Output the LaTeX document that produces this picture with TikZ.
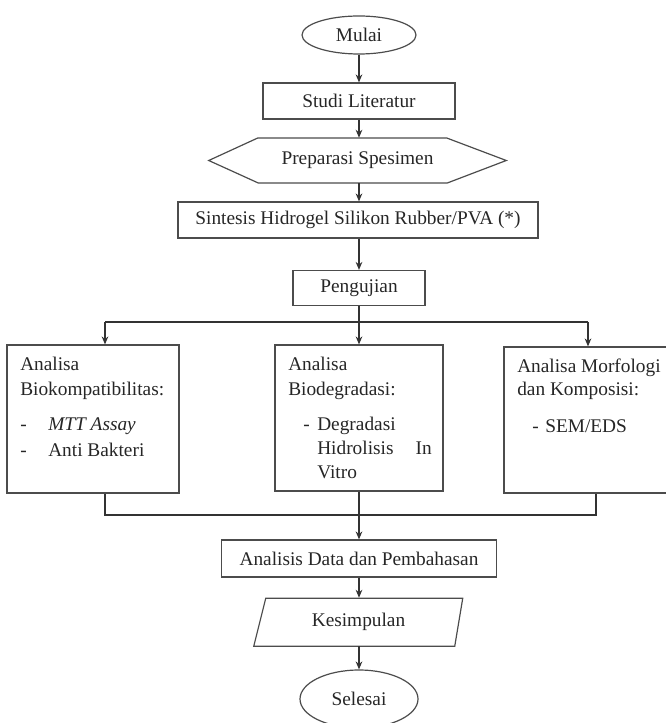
\documentclass[tikz,border=0pt]{standalone}
\usepackage{fontspec}
\setmainfont{Liberation Serif}
\usetikzlibrary{shapes.geometric,arrows.meta}
\begin{document}
\begin{tikzpicture}[x=0.75pt,y=-0.75pt,
  every node/.style={font=\fontsize{14.5}{17}\selectfont, text=black!85},
  shapeline/.style={draw=black!70, line width=0.9pt},
  boxnode/.style={shapeline, rectangle, inner sep=0pt},
  ovalnode/.style={shapeline, ellipse, inner sep=0pt},
  ghost/.style={rectangle, inner sep=0pt},
  conn/.style={draw=black!80, line width=0.9pt},
  arr/.style={conn, -{Stealth[length=6pt,width=5pt]}},
  txt/.style={anchor=base west, inner sep=0pt}]
\useasboundingbox (0,0) rectangle (665,723);

\node[ovalnode, minimum width=85.5pt, minimum height=28.5pt] (mulai) at (359,35) {Mulai};
\node[boxnode, minimum width=144pt, minimum height=27pt] (studi) at (359,101) {Studi Literatur};
\node[ghost, minimum width=222.75pt, minimum height=33.75pt] (prep) at (357.5,160.5) {Preparasi Spesimen};
\draw[shapeline] (prep.west) -- ++(49,-22.5) -- ++(189,0) -- (prep.east) -- ++(-59,22.5) -- ++(-189,0) -- cycle;
\node[boxnode, minimum width=270pt, minimum height=27pt] (sint) at (358,220) {Sintesis Hidrogel Silikon Rubber/PVA (*)};
\node[boxnode, minimum width=99pt, minimum height=26.25pt] (peng) at (359,288) {Pengujian};

\node[boxnode, minimum width=129pt, minimum height=111pt] (left) at (93,419) {};
\node[boxnode, minimum width=126pt, minimum height=109.5pt] (mid) at (359,418) {};
\node[boxnode, minimum width=139.5pt, minimum height=109.5pt] (right) at (597,420) {};

% left box text
\node[txt] (l1) at (20,370) {Analisa};
\node[txt] (l2) at (20,395) {Biokompatibilitas:};
\node[txt] (l3) at (20,430) {-};
\node[txt] (l4) at (48,430) {\itshape MTT Assay};
\node[txt] (l5) at (20,456) {-};
\node[txt] (l6) at (48,456) {Anti Bakteri};
% middle box text
\node[txt] (m1) at (288,370) {Analisa};
\node[txt] (m2) at (288,395) {Biodegradasi:};
\node[txt] (m3) at (303,430) {-};
\node[txt] (m4) at (317,430) {Degradasi};
\node[txt] (m5) at (317,454) {Hidrolisis};
\node[anchor=base east, inner sep=0pt] (m6) at (432,454) {In};
\node[txt] (m7) at (317,478) {Vitro};
% right box text
\node[txt] (r1) at (517,372) {Analisa Morfologi};
\node[txt] (r2) at (517,395) {dan Komposisi:};
\node[txt] (r3) at (532,432) {-};
\node[txt] (r4) at (545,432) {SEM/EDS};

\node[boxnode, minimum width=206.25pt, minimum height=27.75pt] (ana) at (359,558.5) {Analisis Data dan Pembahasan};
\node[ghost, minimum width=156.75pt, minimum height=36pt] (kes) at (358.5,622) {Kesimpulan};
\draw[shapeline] (kes.south west) -- ++(12,-48) -- ++(197,0) -- ++(-8,48) -- cycle;
\node[ovalnode, minimum width=88.5pt, minimum height=43.5pt] (sel) at (359,699) {Selesai};

\coordinate (jL) at (105,322);
\coordinate (jM) at (359,322);
\coordinate (jR) at (588,322);
\coordinate (bL) at (105,515);
\coordinate (bR) at (596,515);

\draw[arr] (mulai.south) -- (studi.north);
\draw[arr] (studi.south) -- (studi.south |- prep.north);
\draw[arr] (studi.south |- prep.south) -- (studi.south |- sint.north);
\draw[arr] (studi.south |- sint.south) -- (peng.north);
\draw[conn] (peng.south) -- (jM);
\draw[conn] (jL) -- (jR);
\draw[arr] (jL) -- (jL |- left.north);
\draw[arr] (jM) -- (mid.north);
\draw[arr] (jR) -- (jR |- right.north);
\draw[conn] (bL |- left.south) -- (bL) -- (bR) -- (bR |- right.south);
\draw[arr] (mid.south) -- (ana.north);
\draw[arr] (ana.south) -- (ana.south |- kes.north);
\draw[arr] (ana.south |- kes.south) -- (sel.north);
\end{tikzpicture}
\end{document}
